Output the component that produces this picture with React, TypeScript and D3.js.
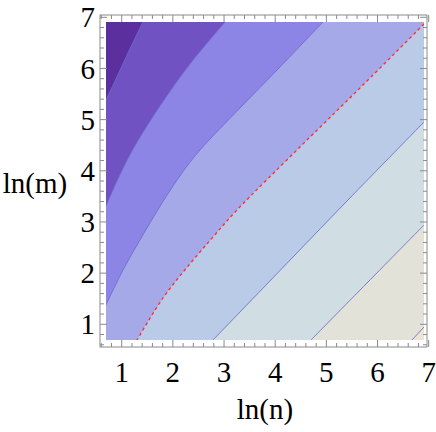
import React from 'react';
import * as d3 from 'd3';

// data range of the plot (ln 2 .. ln 1000)
const X_MIN = 0.693;
const X_MAX = 6.908;
const Y_MIN = 0.693;
const Y_MAX = 6.908;

const TICKS = [1, 2, 3, 4, 5, 6, 7];

// contour boundaries, from upper-right end to lower-left end
const BOUNDARY_1: [number, number][] = [[1.416, 6.908], [1.123, 6.302], [0.888, 5.794], [0.693, 5.383]];
const BOUNDARY_2: [number, number][] = [[3.019, 6.908], [2.335, 6.087], [1.748, 5.266], [1.201, 4.387], [0.908, 3.8], [0.693, 3.312]];
const BOUNDARY_3: [number, number][] = [[4.934, 6.908], [4.093, 6.028], [3.312, 5.227], [2.53, 4.406], [2.178, 3.957], [1.787, 3.37], [1.357, 2.647], [1.025, 2.061], [0.693, 1.377]];
const BOUNDARY_4: [number, number][] = [[6.908, 6.869], [5.696, 5.657], [4.484, 4.465], [3.253, 3.234], [2.784, 2.706], [2.315, 2.159], [1.807, 1.514], [1.299, 0.693]];
const BOUNDARY_5: [number, number][] = [[6.908, 4.953], [5.422, 3.429], [4.367, 2.335], [3.312, 1.24], [2.784, 0.693]];
const BOUNDARY_6: [number, number][] = [[6.908, 2.94], [5.794, 1.807], [4.699, 0.693]];
const BOUNDARY_7: [number, number][] = [[6.908, 0.947], [6.673, 0.693]];

const BOUNDARIES = [BOUNDARY_1, BOUNDARY_2, BOUNDARY_3, BOUNDARY_4, BOUNDARY_5, BOUNDARY_6, BOUNDARY_7];
// colour of the region on the upper-left side of each boundary, plus the last region
const REGION_COLORS = ['#5b2f9e', '#7152c2', '#8d85e6', '#a5a9e8', '#bacbe8', '#d0dde3', '#e3e2d9', '#ece5d2'];
const DASHED = [false, false, false, true, false, false, false];

export default function App() {
    const W = 436;
    const H = 432;
    const frame = { left: 100, right: 427, top: 15, bottom: 347 };

    const x = d3.scaleLinear().domain([X_MIN, X_MAX]).range([106, 424]);
    const y = d3.scaleLinear().domain([Y_MIN, Y_MAX]).range([340, 22]);

    const line = d3.line<[number, number]>()
        .x(d => x(d[0]))
        .y(d => y(d[1]))
        .curve(d3.curveCatmullRom.alpha(0.5));

    const corners: [number, number][] = [[X_MIN, Y_MIN], [X_MIN, Y_MAX], [X_MAX, Y_MAX]];
    const area = (pts: [number, number][]) =>
        (line(pts) || '') + corners.map(c => `L${x(c[0])},${y(c[1])}`).join('') + 'Z';

    const minor: number[] = [];
    for (let i = 3; i <= 35; i++) {
        if (i % 5 !== 0) minor.push(i / 5);
    }

    const font = "Liberation Serif, Tinos, Times New Roman, DejaVu Serif, serif";
    const fc = '#8a8a8a';

    return (
        <svg width={W} height={H} style={{ position: 'absolute', left: 0, top: 0, background: '#fff' }}>
            <defs>
                <clipPath id="plotclip">
                    <rect x={x(X_MIN)} y={y(Y_MAX)} width={x(X_MAX) - x(X_MIN)} height={y(Y_MIN) - y(Y_MAX)} />
                </clipPath>
            </defs>
            <g clipPath="url(#plotclip)">
                <rect x={x(X_MIN)} y={y(Y_MAX)} width={x(X_MAX) - x(X_MIN)} height={y(Y_MIN) - y(Y_MAX)}
                    fill={REGION_COLORS[7]} />
                {BOUNDARIES.map((b, i) => i).reverse().map(i => (
                    <path key={'a' + i} d={area(BOUNDARIES[i])} fill={REGION_COLORS[i]} />
                ))}
                {BOUNDARIES.map((b, i) => (
                    <path key={'l' + i} d={line(b) || ''} fill="none"
                        stroke={DASHED[i] ? '#ff2a2a' : '#6c6cc8'}
                        strokeWidth={DASHED[i] ? 1.3 : 1}
                        strokeDasharray={DASHED[i] ? '3,3' : undefined}
                        strokeOpacity={DASHED[i] ? 1 : 0.85} />
                ))}
            </g>

            <rect x={frame.left} y={frame.top} width={frame.right - frame.left} height={frame.bottom - frame.top}
                fill="none" stroke={fc} strokeWidth={1} />

            {TICKS.map(t => (
                <g key={'t' + t} stroke={fc} strokeWidth={1}>
                    <line x1={x(t)} x2={x(t)} y1={frame.bottom} y2={frame.bottom - 7} />
                    <line x1={x(t)} x2={x(t)} y1={frame.top} y2={frame.top + 7} />
                    <line y1={y(t)} y2={y(t)} x1={frame.left} x2={frame.left + 7} />
                    <line y1={y(t)} y2={y(t)} x1={frame.right} x2={frame.right - 7} />
                </g>
            ))}
            {minor.filter(v => x(v) > frame.left && x(v) < frame.right).map(v => (
                <g key={'mx' + v} stroke={fc} strokeWidth={1}>
                    <line x1={x(v)} x2={x(v)} y1={frame.bottom} y2={frame.bottom - 4} />
                    <line x1={x(v)} x2={x(v)} y1={frame.top} y2={frame.top + 4} />
                </g>
            ))}
            {minor.filter(v => y(v) < frame.bottom && y(v) > frame.top).map(v => (
                <g key={'my' + v} stroke={fc} strokeWidth={1}>
                    <line y1={y(v)} y2={y(v)} x1={frame.left} x2={frame.left + 4} />
                    <line y1={y(v)} y2={y(v)} x1={frame.right} x2={frame.right - 4} />
                </g>
            ))}

            <g fontFamily={font} fontSize={29} fill="#000">
                {TICKS.map(t => (
                    <text key={'xl' + t} x={x(t)} y={382} textAnchor="middle">{t}</text>
                ))}
                {TICKS.map(t => (
                    <text key={'yl' + t} x={95} y={y(t)} dy="0.35em" textAnchor="end">{t}</text>
                ))}
                <text x={265} y={419} textAnchor="middle">ln(n)</text>
                <text x={35} y={183} dy="0.35em" textAnchor="middle">ln(m)</text>
            </g>
        </svg>
    );
}
